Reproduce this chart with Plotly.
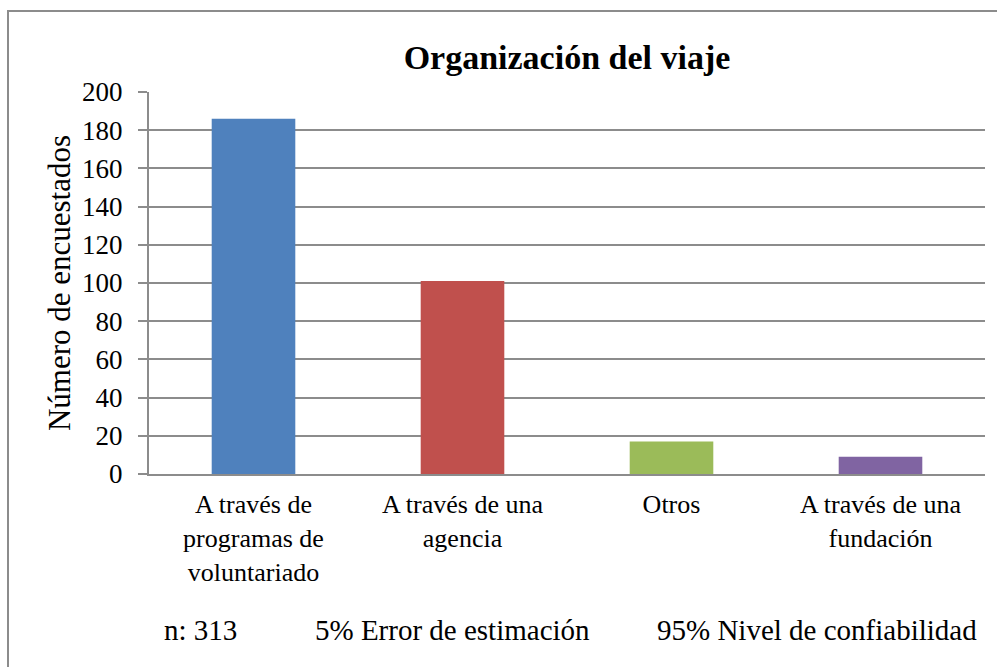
import plotly.graph_objects as go

categories = ["A través de<br>programas de<br>voluntariado", "A través de una<br>agencia", "Otros", "A través de una<br>fundación"]
values = [186, 101, 17, 9]
colors = ["#4F81BD", "#C0504D", "#9BBB59", "#8064A2"]
y_ticks = [0, 20, 40, 60, 80, 100, 120, 140, 160, 180, 200]
title_text = "Organización del viaje"
y_title = "Número de encuestados"
footer = ["n: 313", "5% Error de estimación", "95% Nivel de confiabilidad"]
footer_x = [162, 313, 655]

FONT = "Liberation Serif"
GRID = "#8c8c8c"

W, H = 997, 667
L, R, T, B = 149, 12, 92, 193
pw = W - L - R
ph = H - T - B

fig = go.Figure(go.Bar(
    x=list(range(len(categories))), y=values, marker=dict(color=colors, line=dict(width=0)),
    hoverinfo="skip"))

fig.update_layout(
    width=W, height=H, margin=dict(l=L, r=R, t=T, b=B),
    paper_bgcolor="white", plot_bgcolor="white",
    bargap=0.6, showlegend=False,
    font=dict(family=FONT, size=26, color="black"),
    title=dict(text="<b>" + title_text + "</b>", x=(L + pw / 2) / W, xanchor="center",
               y=1 - 57 / H, yanchor="middle", font=dict(family=FONT, size=34)),
)
fig.update_xaxes(
    tickmode="array", tickvals=list(range(len(categories))), ticktext=categories,
    range=[-0.5, len(categories) - 0.5], showline=True, linecolor=GRID, linewidth=2,
    ticks="", showgrid=False, zeroline=False, tickangle=0, tickfont=dict(size=26),
    ticklabelstandoff=6)
fig.update_yaxes(
    range=[0, 200], tickmode="array", tickvals=y_ticks, showgrid=True, gridcolor=GRID,
    gridwidth=2, showline=True, linecolor=GRID, linewidth=2, ticks="outside", ticklen=9,
    tickcolor=GRID, tickwidth=2, zeroline=False, ticklabelstandoff=10,
    tickfont=dict(size=27),
    title=dict(text=y_title, standoff=2, font=dict(size=31)))

# outer chart border
fig.add_shape(type="rect", xref="paper", yref="paper",
              x0=(8 - L) / pw, x1=1.2, y0=-1.0, y1=(H - B - 11) / ph,
              line=dict(color=GRID, width=2), fillcolor="rgba(0,0,0,0)", layer="below")

for txt, fx in zip(footer, footer_x):
    fig.add_annotation(text=txt, xref="paper", yref="paper", x=(fx - L) / pw, xanchor="left",
                       y=-(630 - (H - B)) / ph, yanchor="middle", showarrow=False,
                       font=dict(family=FONT, size=29))

fig.write_html("out.html", config={"displayModeBar": False},
               post_script="document.body.style.margin='0';document.body.style.overflow='hidden';")
